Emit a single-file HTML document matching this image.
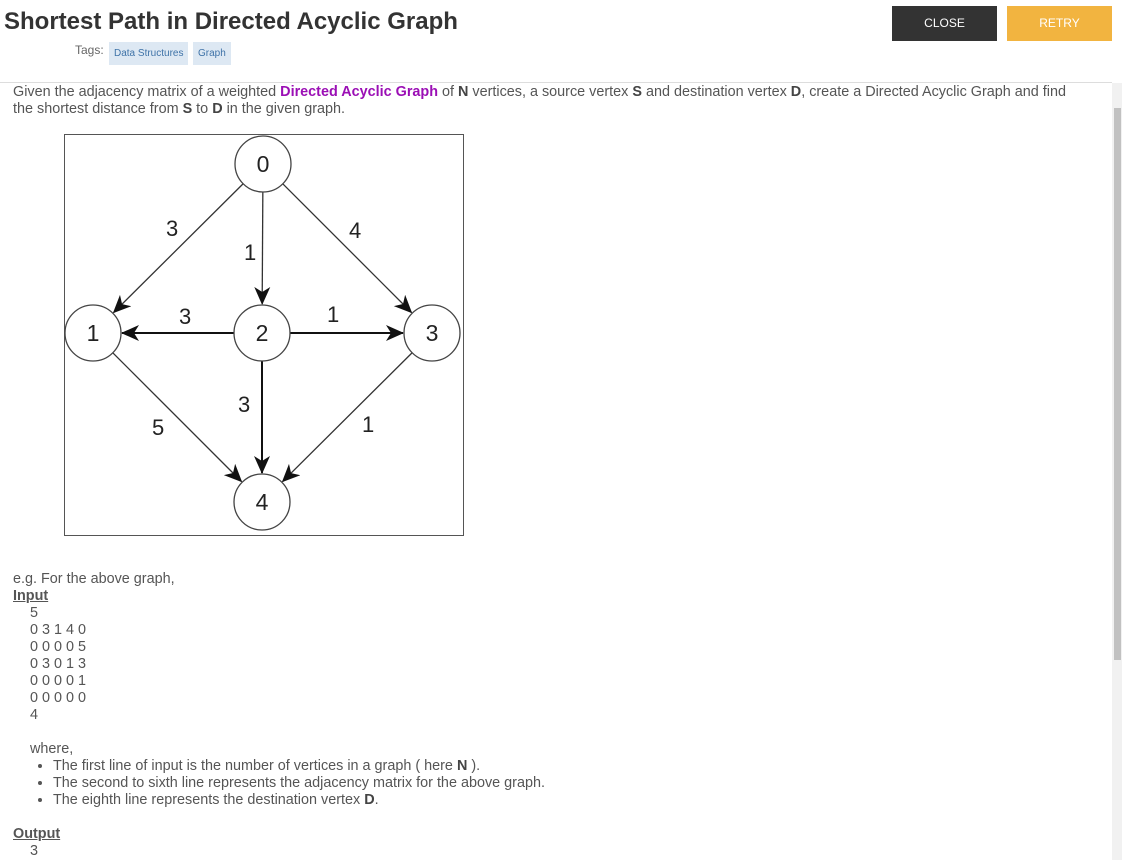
<!DOCTYPE html>
<html><head><meta charset="utf-8"><style>
body{margin:0;width:1122px;height:860px;overflow:hidden;background:#fff;font-family:"Liberation Sans",sans-serif;color:#555;position:relative}
h1{position:absolute;left:4px;top:8px;margin:0;font-size:24px;font-weight:bold;color:#333;white-space:nowrap}
.tags{position:absolute;left:75px;top:43px;font-size:12px;color:#666}
.chip{position:absolute;top:42px;height:23px;line-height:23px;background:#dde8f3;color:#3f73a8;font-size:10px;padding:0 5px;white-space:nowrap}
.btn{position:absolute;top:6px;height:35px;width:105px;line-height:35px;text-align:center;color:#fff;font-size:12px}
.hr{position:absolute;left:0;top:82px;width:1112px;border-top:1px solid #ddd}
.content{position:absolute;left:13px;top:84px;width:1090px;font-size:14.4px;line-height:17px}
.sb{position:absolute;left:1112px;top:83px;width:10px;height:777px;background:#f1f1f1}
.thumb{position:absolute;left:1114px;top:108px;width:7px;height:552px;background:#c1c1c1}
b{color:#444}
.mono div{margin-left:17px}
ul{margin:0;padding-left:40px}
</style></head><body>
<h1>Shortest Path in Directed Acyclic Graph</h1>
<div class="tags">Tags:</div>
<div class="chip" style="left:109px">Data Structures</div>
<div class="chip" style="left:193px">Graph</div>
<div class="btn" style="left:892px;background:#333">CLOSE</div>
<div class="btn" style="left:1007px;background:#f2b440">RETRY</div>
<div class="hr"></div>
<div class="content">
<div style="margin-top:0;width:1076px">Given the adjacency matrix of a weighted <b style="color:#9b0fb5">Directed Acyclic Graph</b> of <b>N</b> vertices, a source vertex <b>S</b> and destination vertex <b>D</b>, create a Directed Acyclic Graph and find the shortest distance from <b>S</b> to <b>D</b> in the given graph.</div>
<svg id="g" width="400" height="402" style="position:absolute;left:51px;top:50px"></svg>
<div style="position:absolute;top:487px;width:600px" class="mono">
e.g. For the above graph,<br>
<b style="text-decoration:underline;color:#555">Input</b>
<div>5</div><div>0 3 1 4 0</div><div>0 0 0 0 5</div><div>0 3 0 1 3</div><div>0 0 0 0 1</div><div>0 0 0 0 0</div><div>4</div>
<div style="margin-top:17px">where,</div>
<ul style="margin-left:17px;padding-left:23px"><li>The first line of input is the number of vertices in a graph ( here <b>N</b> ).</li><li>The second to sixth line represents the adjacency matrix for the above graph.</li><li>The eighth line represents the destination vertex <b>D</b>.</li></ul>
<b style="text-decoration:underline;color:#555;display:block;margin-top:17px">Output</b>
<div>3</div>
</div>
</div>
<div class="sb"></div>
<div class="thumb"></div>
<script>
const nodeLabels=["0","1","2","3","4"];
const edgeFrom=[0,0,0,2,2,2,1,3];
const edgeTo=[1,2,3,1,3,4,4,4];
const edgeWeights=[3,1,4,3,1,3,5,1];
const nodePos=[[199,30],[29,199],[198,199],[368,199],[198,368]];
const labelPos=[[102,102],[180,126],[285,104],[115,190],[263,188],[174,278],[88,301],[298,298]];
const svg=document.getElementById('g');const NS='http://www.w3.org/2000/svg';
svg.innerHTML='<defs><marker id="ah" markerWidth="20" markerHeight="20" refX="17" refY="8" orient="auto" markerUnits="userSpaceOnUse"><path d="M0,0 L18,8 L0,16 L5,8z" fill="#111"/></marker></defs><rect x="0.5" y="0.5" width="399" height="401" fill="#fff" stroke="#555"/>';
const R=28;
for(let i=0;i<edgeFrom.length;i++){
 const a=nodePos[edgeFrom[i]],b=nodePos[edgeTo[i]];
 const dx=b[0]-a[0],dy=b[1]-a[1],d=Math.hypot(dx,dy);
 const l=document.createElementNS(NS,'line');
 
 
 l.setAttribute('x1',a[0]+dx/d*R);l.setAttribute('y1',a[1]+dy/d*R);
 l.setAttribute('x2',b[0]-dx/d*(R+1));l.setAttribute('y2',b[1]-dy/d*(R+1));
 l.setAttribute('stroke',(dx===0||dy===0)?'#111':'#333');l.setAttribute('stroke-width',(dx===0||dy===0)?2:1.3);
 l.setAttribute('marker-end','url(#ah)');svg.appendChild(l);
 const t=document.createElementNS(NS,'text');
 
 
 t.setAttribute('x',labelPos[i][0]);t.setAttribute('y',labelPos[i][1]);
 t.setAttribute('font-size','22');t.setAttribute('fill','#222');t.setAttribute('font-family','Liberation Sans, sans-serif');
 t.textContent=edgeWeights[i];svg.appendChild(t);
}
nodeLabels.forEach((n,i)=>{
 const c=document.createElementNS(NS,'circle');
 
 
 c.setAttribute('cx',nodePos[i][0]);c.setAttribute('cy',nodePos[i][1]);c.setAttribute('r',R);
 c.setAttribute('fill','#fff');c.setAttribute('stroke','#444');c.setAttribute('stroke-width','1.3');svg.appendChild(c);
 const t=document.createElementNS(NS,'text');
 
 
 t.setAttribute('x',nodePos[i][0]);t.setAttribute('y',nodePos[i][1]+8);t.setAttribute('text-anchor','middle');
 t.setAttribute('font-size','23');t.setAttribute('fill','#222');t.setAttribute('font-family','Liberation Sans, sans-serif');
 t.textContent=n;svg.appendChild(t);
});
</script>
</body></html>
